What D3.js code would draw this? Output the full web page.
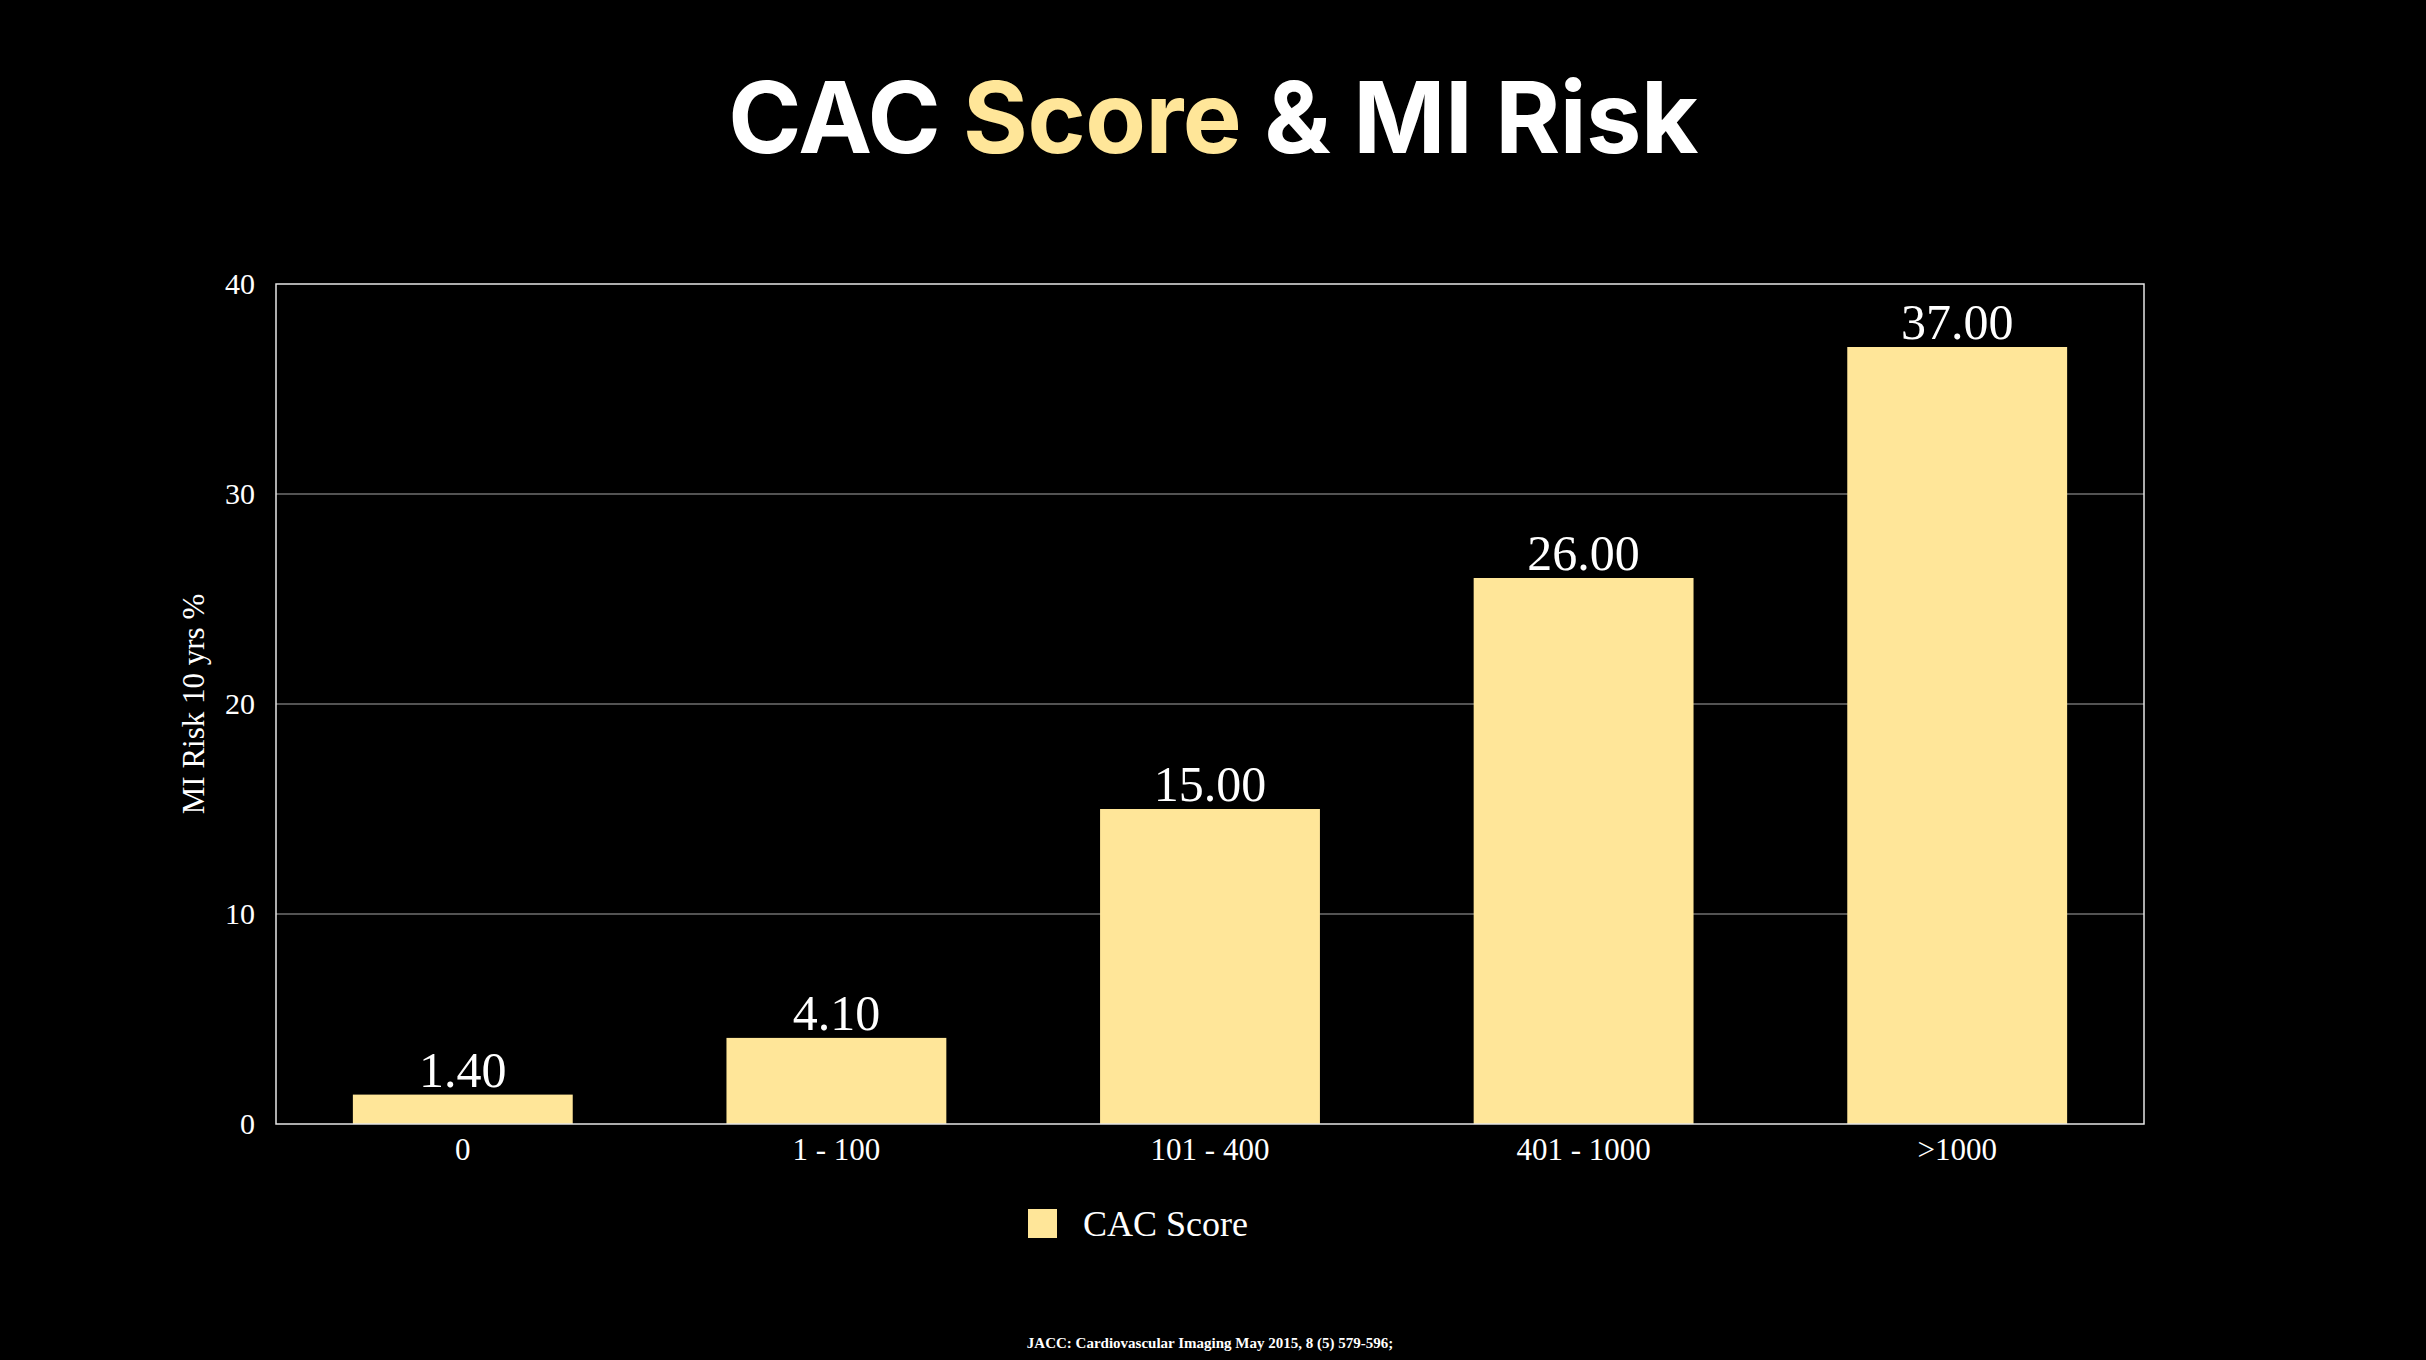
<!DOCTYPE html>
<html>
<head>
<meta charset="utf-8">
<script src="https://cdn.jsdelivr.net/npm/d3@7"></script>
<style>
  html, body { margin: 0; padding: 0; background: #000; }
  svg { display: block; }
</style>
</head>
<body>
<div id="chart"></div>
<script>
// data
const categories = ["0", "1 - 100", "101 - 400", "401 - 1000", ">1000"];
const riskValues = [1.4, 4.1, 15, 26, 37];
const yTicks = [0, 10, 20, 30, 40];
const seriesName = "CAC Score";

// layout
const svgWidth = 2426, svgHeight = 1360;
const plot = { left: 276, right: 2144, top: 284, bottom: 1124 };
const barColor = "#FFE699";
const serif = "'Liberation Serif', 'Times New Roman', serif";

const svg = d3.select("#chart")
  .append("svg")
  .attr("width", svgWidth)
  .attr("height", svgHeight);

svg.append("rect")
  .attr("width", svgWidth)
  .attr("height", svgHeight)
  .attr("fill", "#000");

// title
const title = svg.append("text")
  .attr("x", svgWidth / 2)
  .attr("y", 153)
  .attr("text-anchor", "middle")
  .style("font-family", "Inter, 'Open Sans', sans-serif")
  .style("font-weight", 700)
  .style("font-size", "99px")
  .style("letter-spacing", "-0.5px")
  .attr("fill", "#fff");
title.append("tspan").text("CAC ");
title.append("tspan").attr("fill", barColor).text("Score");
title.append("tspan").text(" & MI Risk");

// scales
const xScale = d3.scaleBand()
  .domain(categories)
  .range([plot.left, plot.right])
  .paddingInner(0.4115)
  .paddingOuter(0.4115 / 2);

const yScale = d3.scaleLinear()
  .domain([0, 40])
  .range([plot.bottom, plot.top]);

// gridlines
svg.append("g")
  .selectAll("line")
  .data(yTicks.filter(d => d > 0 && d < 40))
  .enter()
  .append("line")
  .attr("x1", plot.left)
  .attr("x2", plot.right)
  .attr("y1", d => yScale(d))
  .attr("y2", d => yScale(d))
  .attr("stroke", "#a6a6a6")
  .attr("stroke-width", 1.2);

// y axis labels
const yAxis = d3.axisLeft(yScale).tickValues(yTicks).tickSize(0).tickPadding(21);
svg.append("g")
  .attr("transform", `translate(${plot.left},0)`)
  .call(yAxis)
  .call(g => g.select(".domain").remove())
  .selectAll("text")
  .attr("fill", "#fff")
  .style("font-family", serif)
  .style("font-size", "30px");

// bars
svg.append("g")
  .selectAll("rect")
  .data(riskValues)
  .enter()
  .append("rect")
  .attr("x", (d, i) => xScale(categories[i]))
  .attr("y", d => yScale(d))
  .attr("width", xScale.bandwidth())
  .attr("height", d => yScale(0) - yScale(d))
  .attr("fill", barColor);

// value labels
svg.append("g")
  .selectAll("text")
  .data(riskValues)
  .enter()
  .append("text")
  .attr("x", (d, i) => xScale(categories[i]) + xScale.bandwidth() / 2)
  .attr("y", d => yScale(d) - 8)
  .attr("text-anchor", "middle")
  .attr("fill", "#fff")
  .style("font-family", serif)
  .style("font-size", "50px")
  .text(d => d.toFixed(2));

// plot border
svg.append("rect")
  .attr("x", plot.left)
  .attr("y", plot.top)
  .attr("width", plot.right - plot.left)
  .attr("height", plot.bottom - plot.top)
  .attr("fill", "none")
  .attr("stroke", "#e6e6e6")
  .attr("stroke-width", 1.5);

// x axis labels
const xAxis = d3.axisBottom(xScale).tickSize(0).tickPadding(14);
svg.append("g")
  .attr("transform", `translate(0,${plot.bottom})`)
  .call(xAxis)
  .call(g => g.select(".domain").remove())
  .selectAll("text")
  .attr("fill", "#fff")
  .style("font-family", serif)
  .style("font-size", "31px");

// y axis title
svg.append("text")
  .attr("transform", `translate(204, ${(plot.top + plot.bottom) / 2}) rotate(-90)`)
  .attr("text-anchor", "middle")
  .attr("fill", "#fff")
  .style("font-family", serif)
  .style("font-size", "31px")
  .text("MI Risk 10 yrs %");

// legend
const legend = svg.append("g").attr("transform", "translate(1028,1209)");
legend.append("rect")
  .attr("width", 29)
  .attr("height", 29)
  .attr("fill", barColor);
legend.append("text")
  .attr("x", 55)
  .attr("y", 27)
  .attr("fill", "#fff")
  .style("font-family", serif)
  .style("font-size", "36px")
  .text(seriesName);

// source note
svg.append("text")
  .attr("x", 1210)
  .attr("y", 1348)
  .attr("text-anchor", "middle")
  .attr("fill", "#fff")
  .style("font-family", serif)
  .style("font-weight", 700)
  .style("font-size", "15px")
  .text("JACC: Cardiovascular Imaging May 2015, 8 (5) 579-596;");
</script>
</body>
</html>
